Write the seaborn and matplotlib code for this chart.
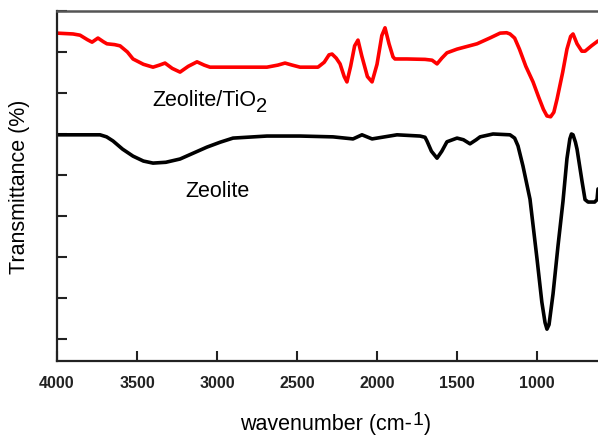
import numpy as np
import pandas as pd
import matplotlib
matplotlib.use("Agg")
import matplotlib.pyplot as plt
import seaborn as sns

# FTIR spectra: wavenumber (cm-1) and transmittance (arbitrary offset units)
wn_tio2 = [4000, 3900, 3856, 3810, 3781, 3744, 3710, 3688, 3640, 3606, 3560, 3525,
           3460, 3400, 3360, 3325, 3280, 3231, 3180, 3125, 3080, 3044,
           2900, 2688, 2620, 2575, 2530, 2481, 2369, 2330, 2300, 2281, 2255, 2231,
           2205, 2188, 2165, 2140, 2119, 2095, 2060, 2031, 2000, 1970, 1950, 1925,
           1900, 1888, 1813, 1700, 1656, 1625, 1595, 1563, 1500, 1375, 1290, 1231,
           1190, 1169, 1140, 1110, 1070, 1025, 990, 960, 938, 915, 895,
           875, 840, 813, 790, 775, 750, 720, 700, 660, 619]
t_tio2 = [84.6, 84.4, 84.1, 83.0, 82.4, 83.4, 82.5, 82.0, 81.8, 81.5, 80.0, 78.3,
          77.0, 76.3, 76.8, 77.3, 76.0, 75.1, 76.5, 77.6, 76.8, 76.3,
          76.3, 76.3, 76.8, 77.3, 76.8, 76.3, 76.3, 77.5, 79.3, 79.5, 78.5, 77.1,
          74.0, 72.7, 76.5, 81.5, 82.9, 79.0, 74.0, 72.7, 77.0, 84.0, 85.9, 82.0,
          78.8, 78.3, 78.3, 78.2, 78.0, 77.1, 78.5, 79.8, 80.7, 82.0, 83.5, 84.6,
          84.7, 84.4, 83.4, 80.7, 76.5, 72.7, 69.0, 66.0, 64.4, 64.2, 65.3,
          68.5, 75.0, 80.7, 83.8, 84.4, 82.0, 80.2, 80.2, 81.5, 82.7]

wn_zeo = [4000, 3731, 3690, 3650, 3590, 3525, 3460, 3400, 3320, 3231, 3150, 3063,
          2980, 2900, 2688, 2481, 2275, 2150, 2094, 2031, 1875, 1731, 1700, 1688,
          1660, 1625, 1595, 1563, 1500, 1460, 1419, 1380, 1356, 1275, 1169,
          1140, 1119, 1088, 1044, 1000, 970, 950, 938, 925, 900, 869, 838, 813,
          795, 785, 775, 760, 750, 719, 700, 681, 640, 625, 619]
t_zeo = [59.8, 59.8, 59.3, 58.3, 56.3, 54.6, 53.4, 52.9, 53.1, 53.9, 55.3, 56.8,
         58.0, 59.0, 59.5, 59.5, 59.3, 58.8, 59.8, 58.8, 59.8, 59.5, 59.2, 58.3,
         55.8, 54.1, 55.8, 58.1, 59.0, 58.6, 57.6, 58.6, 59.3, 60.0, 59.8,
         59.0, 57.1, 52.2, 44.1, 29.5, 19.0, 14.0, 12.4, 13.5, 21.0, 32.7, 43.5, 54.0,
         58.8, 60.0, 59.8, 58.0, 56.3, 48.5, 44.0, 43.4, 43.4, 44.0, 46.6]

series_names = ["Zeolite/TiO", "Zeolite"]
x_ticks = [4000, 3500, 3000, 2500, 2000, 1500, 1000]

df = pd.concat([
    pd.DataFrame({"wn": wn_tio2, "T": t_tio2, "sample": series_names[0]}),
    pd.DataFrame({"wn": wn_zeo, "T": t_zeo, "sample": series_names[1]}),
])

sns.set_style("white")
plt.rcParams["font.family"] = ["Liberation Sans", "DejaVu Sans"]
plt.rcParams["text.color"] = "black"
plt.rcParams["axes.labelcolor"] = "black"

fig = plt.figure(figsize=(5.98, 4.39), dpi=100)
ax = fig.add_axes([57 / 598, 1 - 362 / 439, 1 - 57 / 598, 350 / 439])

sns.lineplot(data=df, x="wn", y="T", hue="sample", sort=False, estimator=None,
             palette={series_names[0]: "#ff0000", series_names[1]: "#000000"},
             linewidth=2.6, legend=False, ax=ax)

ax.set_xlim(4000, 619)
ax.set_ylim(4.63, 90)
ax.set_xticks(x_ticks)
ax.set_xticklabels([str(v) for v in x_ticks], fontsize=11.5, fontweight="bold",
                   color="#222222")
ax.set_yticks(np.arange(10, 91, 10))
ax.set_yticklabels([])
ax.tick_params(axis="both", direction="in", length=7, width=1.5, color="#222222",
               bottom=True, left=True, top=False, right=False)
ax.tick_params(axis="x", pad=10)

for side in ["left", "bottom"]:
    ax.spines[side].set_color("#222222")
    ax.spines[side].set_linewidth(1.6)
ax.spines["top"].set_color("#555555")
ax.spines["top"].set_linewidth(1.8)
ax.spines["right"].set_visible(False)

ax.set_xlabel("wavenumber (cm-", fontsize=15.5, labelpad=17)
xl = ax.xaxis.label
xl.set_x(0.497)
ax.set_ylabel("Transmittance (%)", fontsize=15.5, labelpad=16)

fig.canvas.draw()
# superscript "1" and closing parenthesis after the x label
sup = ax.annotate("1", xy=(1, 0), xycoords=xl, xytext=(0.5, 5),
                  textcoords="offset points", fontsize=14, va="bottom", ha="left")
ax.annotate(")", xy=(1, 0), xycoords=sup, xytext=(0.5, -5),
            textcoords="offset points", fontsize=15.5, va="bottom", ha="left")

t1 = ax.text(3406, 68.5, series_names[0], fontsize=15.5, ha="left", va="center")
ax.annotate("2", xy=(1, 0), xycoords=t1, xytext=(0.3, -4),
            textcoords="offset points", fontsize=14.5, va="bottom", ha="left")
ax.text(3200, 46.1, series_names[1], fontsize=15.5, ha="left", va="center")

fig.savefig("out.png", dpi=100)
